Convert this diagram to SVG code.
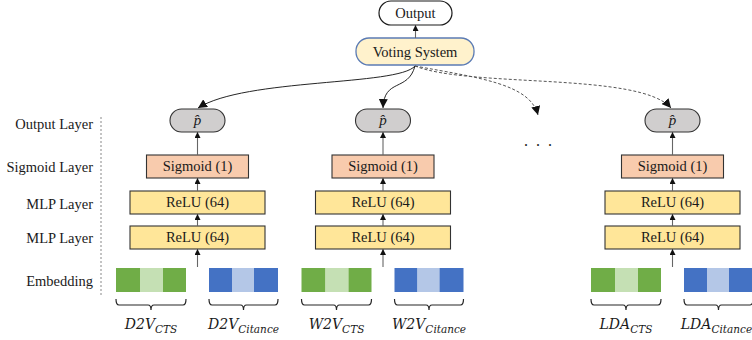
<svg xmlns="http://www.w3.org/2000/svg" width="752" height="340" viewBox="0 0 752 340">
<style>
text{font-family:"Liberation Serif","Times New Roman",serif;font-size:14.5px;fill:#1a1a1a}
.c{text-anchor:middle}
.r{text-anchor:end}
.m{font-family:"DejaVu Serif","Liberation Serif",serif;font-style:italic;font-size:14px;text-anchor:middle}
.s{font-size:10.5px}
.ph{font-style:italic;font-size:15px}
.out{fill:#fff;stroke:#1a1a1a;stroke-width:1.2}
.vote{fill:#fff2cc;stroke:#5b7bb4;stroke-width:1.3}
.p{fill:#d0cece;stroke:#333;stroke-width:1.1}
.sig{fill:#f8cbad;stroke:#333;stroke-width:1.1}
.relu{fill:#ffe699;stroke:#333;stroke-width:1.1}
.g1{fill:#70ad47}.g2{fill:#c5e0b4}.b1{fill:#4472c4}.b2{fill:#b4c7e7}
.br{fill:none;stroke:#262626;stroke-width:1.2}
.ln{fill:none;stroke:#666;stroke-width:1.1;marker-end:url(#ah)}
.cv{fill:none;stroke:#262626;stroke-width:1;marker-end:url(#ah2)}
.dc{fill:none;stroke:#555;stroke-width:1;stroke-dasharray:3,2;marker-end:url(#ah2)}
.vd{stroke:#888;stroke-width:1;stroke-dasharray:2,2}
</style>
<defs>
<marker id="ah" viewBox="0 0 8 8" refX="8" refY="4" markerWidth="6" markerHeight="6" markerUnits="userSpaceOnUse" orient="auto"><path d="M0,0L8,4L0,8z" fill="#111"/></marker>
<marker id="ah2" viewBox="0 0 8 8" refX="8" refY="4" markerWidth="9" markerHeight="9" markerUnits="userSpaceOnUse" orient="auto"><path d="M0,0L8,4L0,8z" fill="#111"/></marker>
</defs>

<g id="layer-labels">
<text class="r" x="93" y="129">Output Layer</text>
<text class="r" x="93" y="172">Sigmoid Layer</text>
<text class="r" x="93" y="209">MLP Layer</text>
<text class="r" x="93" y="243">MLP Layer</text>
<text class="r" x="93" y="286">Embedding</text>
<line class="vd" x1="101" y1="117" x2="101" y2="296"/>
</g>

<g id="output"><rect class="out" x="379" y="1" width="73" height="24" rx="12"/><text class="c" x="415.5" y="18">Output</text></g>
<g id="voting"><rect class="vote" x="356" y="38" width="118" height="27" rx="13"/><text class="c" x="415" y="57">Voting System</text></g>

<g id="col1-p"><rect class="p" x="170" y="109" width="55" height="23" rx="11.5"/><text class="c ph" x="197.5" y="125">p̂</text></g>
<g id="col1-sig"><rect class="sig" x="146.5" y="155" width="102" height="23"/><text class="c" x="197.5" y="171">Sigmoid (1)</text></g>
<g id="col1-relu1"><rect class="relu" x="130" y="191" width="135" height="23"/><text class="c" x="197.5" y="207">ReLU (64)</text></g>
<g id="col1-relu2"><rect class="relu" x="130" y="226" width="135" height="23"/><text class="c" x="197.5" y="242">ReLU (64)</text></g>
<g id="col1-emb-cts"><rect class="g1" x="116" y="268" width="24" height="24"/><rect class="g2" x="140" y="268" width="23" height="24"/><rect class="g1" x="163" y="268" width="23" height="24"/>
<path class="br" d="M116,299Q116,305 119,305L148,305Q151,305 151,310Q151,305 154,305L183,305Q186,305 186,299"/>
<text class="m" x="151" y="329">D2V<tspan class="s" dy="4">CTS</tspan></text></g>
<g id="col1-emb-cit"><rect class="b1" x="209" y="268" width="23" height="24"/><rect class="b2" x="232" y="268" width="22" height="24"/><rect class="b1" x="254" y="268" width="24" height="24"/>
<path class="br" d="M209,299Q209,305 212,305L240.5,305Q243.5,305 243.5,310Q243.5,305 246.5,305L275,305Q278,305 278,299"/>
<text class="m" x="243.5" y="329">D2V<tspan class="s" dy="4">Citance</tspan></text></g>

<g id="col2-p"><rect class="p" x="355.5" y="109" width="55" height="23" rx="11.5"/><text class="c ph" x="383" y="125">p̂</text></g>
<g id="col2-sig"><rect class="sig" x="332" y="155" width="102" height="23"/><text class="c" x="383" y="171">Sigmoid (1)</text></g>
<g id="col2-relu1"><rect class="relu" x="315.5" y="191" width="135" height="23"/><text class="c" x="383" y="207">ReLU (64)</text></g>
<g id="col2-relu2"><rect class="relu" x="315.5" y="226" width="135" height="23"/><text class="c" x="383" y="242">ReLU (64)</text></g>
<g id="col2-emb-cts"><rect class="g1" x="301.5" y="268" width="24" height="24"/><rect class="g2" x="325.5" y="268" width="23" height="24"/><rect class="g1" x="348.5" y="268" width="23" height="24"/>
<path class="br" d="M301.5,299Q301.5,305 304.5,305L333.5,305Q336.5,305 336.5,310Q336.5,305 339.5,305L368.5,305Q371.5,305 371.5,299"/>
<text class="m" x="336.5" y="329">W2V<tspan class="s" dy="4">CTS</tspan></text></g>
<g id="col2-emb-cit"><rect class="b1" x="394.5" y="268" width="23" height="24"/><rect class="b2" x="417.5" y="268" width="22" height="24"/><rect class="b1" x="439.5" y="268" width="24" height="24"/>
<path class="br" d="M394.5,299Q394.5,305 397.5,305L426,305Q429,305 429,310Q429,305 432,305L460.5,305Q463.5,305 463.5,299"/>
<text class="m" x="429" y="329">W2V<tspan class="s" dy="4">Citance</tspan></text></g>

<g id="ellipsis"><text class="c" x="539" y="146" style="font-size:16px;letter-spacing:2px">. . .</text></g>

<g id="col3-p"><rect class="p" x="645" y="109" width="55" height="23" rx="11.5"/><text class="c ph" x="672.5" y="125">p̂</text></g>
<g id="col3-sig"><rect class="sig" x="621.5" y="155" width="102" height="23"/><text class="c" x="672.5" y="171">Sigmoid (1)</text></g>
<g id="col3-relu1"><rect class="relu" x="605" y="191" width="135" height="23"/><text class="c" x="672.5" y="207">ReLU (64)</text></g>
<g id="col3-relu2"><rect class="relu" x="605" y="226" width="135" height="23"/><text class="c" x="672.5" y="242">ReLU (64)</text></g>
<g id="col3-emb-cts"><rect class="g1" x="591" y="268" width="24" height="24"/><rect class="g2" x="615" y="268" width="23" height="24"/><rect class="g1" x="638" y="268" width="23" height="24"/>
<path class="br" d="M591,299Q591,305 594,305L623,305Q626,305 626,310Q626,305 629,305L658,305Q661,305 661,299"/>
<text class="m" x="626" y="329">LDA<tspan class="s" dy="4">CTS</tspan></text></g>
<g id="col3-emb-cit"><rect class="b1" x="684" y="268" width="23" height="24"/><rect class="b2" x="707" y="268" width="22" height="24"/><rect class="b1" x="729" y="268" width="24" height="24"/>
<path class="br" d="M684,299Q684,305 687,305L715.5,305Q718.5,305 718.5,310Q718.5,305 721.5,305L750,305Q753,305 753,299"/>
<text class="m" x="716.5" y="329">LDA<tspan class="s" dy="4">Citance</tspan></text></g>

<g id="connectors">
<line class="ln" x1="415.5" y1="38" x2="415.5" y2="25"/>
<path class="cv" d="M415,66C398,86 245,78 198,108"/>
<path class="cv" d="M415,66C408,92 384,78 383,108"/>
<path class="dc" d="M415,66C480,78 530,84 538,115"/>
<path class="dc" d="M415,66C470,88 640,72 671,108"/>
<line class="ln" x1="197.5" y1="155" x2="197.5" y2="132"/>
<line class="ln" x1="197.5" y1="191" x2="197.5" y2="178"/>
<line class="ln" x1="197.5" y1="226" x2="197.5" y2="214"/>
<line class="ln" x1="197.5" y1="267" x2="197.5" y2="249"/>
<line class="ln" x1="383" y1="155" x2="383" y2="132"/>
<line class="ln" x1="383" y1="191" x2="383" y2="178"/>
<line class="ln" x1="383" y1="226" x2="383" y2="214"/>
<line class="ln" x1="383" y1="267" x2="383" y2="249"/>
<line class="ln" x1="672.5" y1="155" x2="672.5" y2="132"/>
<line class="ln" x1="672.5" y1="191" x2="672.5" y2="178"/>
<line class="ln" x1="672.5" y1="226" x2="672.5" y2="214"/>
<line class="ln" x1="672.5" y1="267" x2="672.5" y2="249"/>
</g>
</svg>
